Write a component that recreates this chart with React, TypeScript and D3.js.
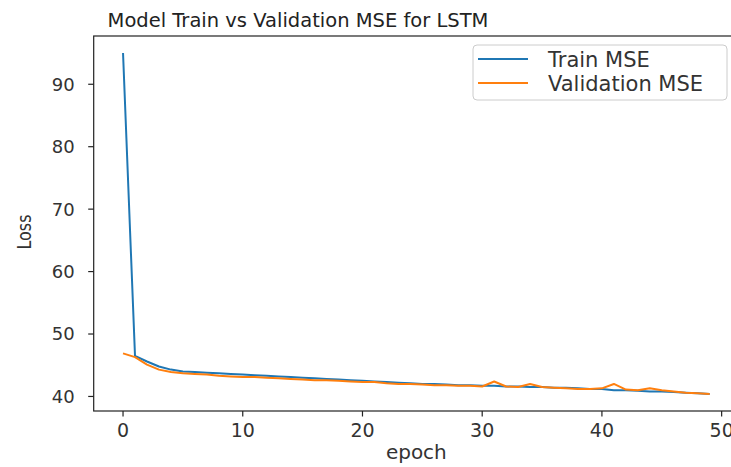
import * as d3 from "d3";

const epochs = d3.range(0, 50);
const trainMse = [
  95.0, 46.5, 45.6, 44.8, 44.3, 44.0, 43.9, 43.8, 43.7, 43.6,
  43.5, 43.4, 43.3, 43.2, 43.1, 43.0, 42.9, 42.8, 42.7, 42.6,
  42.5, 42.4, 42.3, 42.2, 42.1, 42.0, 42.0, 41.9, 41.8, 41.8,
  41.7, 41.7, 41.6, 41.6, 41.5, 41.5, 41.4, 41.4, 41.3, 41.2,
  41.2, 41.0, 41.0, 40.9, 40.8, 40.8, 40.7, 40.6, 40.5, 40.4,
];
const valMse = [
  46.9, 46.3, 45.1, 44.3, 43.9, 43.7, 43.6, 43.5, 43.3, 43.2,
  43.1, 43.1, 43.0, 42.9, 42.8, 42.7, 42.6, 42.6, 42.5, 42.4,
  42.3, 42.3, 42.1, 42.0, 42.0, 41.9, 41.8, 41.8, 41.7, 41.7,
  41.6, 42.4, 41.6, 41.5, 42.0, 41.5, 41.4, 41.3, 41.2, 41.2,
  41.3, 42.0, 41.1, 41.0, 41.3, 41.0, 40.8, 40.6, 40.5, 40.4,
];
const xTicks = [0, 10, 20, 30, 40, 50];
const yTicks = [40, 50, 60, 70, 80, 90];
const seriesNames = ["Train MSE", "Validation MSE"];
const colors = ["#1f77b4", "#ff7f0e"];

const W = 731;
const H = 467;
const plot = { left: 93.7, right: 739, top: 36, bottom: 411 };
const font = "DejaVu Sans, sans-serif";

export default function App() {
  // matplotlib style 5% margins
  const xPad = (epochs[epochs.length - 1] - epochs[0]) * 0.05;
  const x = d3
    .scaleLinear()
    .domain([epochs[0] - xPad, epochs[epochs.length - 1] + xPad])
    .range([plot.left, plot.right]);
  const all = trainMse.concat(valMse);
  const lo = d3.min(all)!;
  const hi = d3.max(all)!;
  const yPad = (hi - lo) * 0.05;
  const y = d3
    .scaleLinear()
    .domain([lo - yPad, hi + yPad])
    .range([plot.bottom, plot.top]);

  const line = d3
    .line<number>()
    .x((_, i) => x(epochs[i]))
    .y((d) => y(d));

  const series = [trainMse, valMse];

  return (
    <div style={{ position: "absolute", left: 0, top: 0 }}>
      <svg width={W} height={H} style={{ display: "block", background: "#fff" }}>
        <defs>
          <clipPath id="plotclip">
            <rect
              x={plot.left}
              y={plot.top}
              width={plot.right - plot.left}
              height={plot.bottom - plot.top}
            />
          </clipPath>
        </defs>
        <text
          x={298}
          y={27}
          textAnchor="middle"
          fontFamily={font}
          fontSize={19.5}
          fill="#222"
        >
          Model Train vs Validation MSE for LSTM
        </text>

        <g clipPath="url(#plotclip)">
          {series.map((s, i) => (
            <path
              key={i}
              d={line(s) ?? ""}
              fill="none"
              stroke={colors[i]}
              strokeWidth={2}
              strokeLinejoin="round"
            />
          ))}
        </g>

        {/* frame */}
        <rect
          x={plot.left}
          y={plot.top}
          width={plot.right - plot.left}
          height={plot.bottom - plot.top}
          fill="none"
          stroke="#222"
          strokeWidth={1.2}
        />

        {/* x axis */}
        <g fontFamily={font} fontSize={19} fill="#333">
          {xTicks.map((t) => (
            <g key={t} transform={`translate(${x(t)},${plot.bottom})`}>
              <line y2={5.5} stroke="#222" strokeWidth={1.2} />
              <text y={26} textAnchor="middle">
                {t}
              </text>
            </g>
          ))}
        </g>
        <text
          x={(plot.left + plot.right) / 2}
          y={459}
          textAnchor="middle"
          fontFamily={font}
          fontSize={20}
          fill="#333"
        >
          epoch
        </text>

        {/* y axis */}
        <g fontFamily={font} fontSize={18} fill="#333">
          {yTicks.map((t) => (
            <g key={t} transform={`translate(${plot.left},${y(t)})`}>
              <line x2={-5.5} stroke="#222" strokeWidth={1.2} />
              <text x={-19} dy="0.36em" textAnchor="end">
                {t}
              </text>
            </g>
          ))}
        </g>
        <text
          transform="translate(31,232) rotate(-90)"
          textAnchor="middle"
          fontFamily={font}
          fontSize={19}
          textLength={35}
          lengthAdjust="spacingAndGlyphs"
          fill="#333"
        >
          Loss
        </text>

        {/* legend */}
        <g fontFamily={font} fontSize={21} fill="#333">
          <rect
            x={473}
            y={45}
            width={254}
            height={55}
            rx={4}
            fill="#fff"
            fillOpacity={0.8}
            stroke="#ccc"
          />
          {seriesNames.map((n, i) => (
            <g key={n} transform={`translate(478,${59 + i * 24})`}>
              <line x2={50} stroke={colors[i]} strokeWidth={2} />
              <text x={70} dy="0.36em">
                {n}
              </text>
            </g>
          ))}
        </g>
      </svg>
    </div>
  );
}
